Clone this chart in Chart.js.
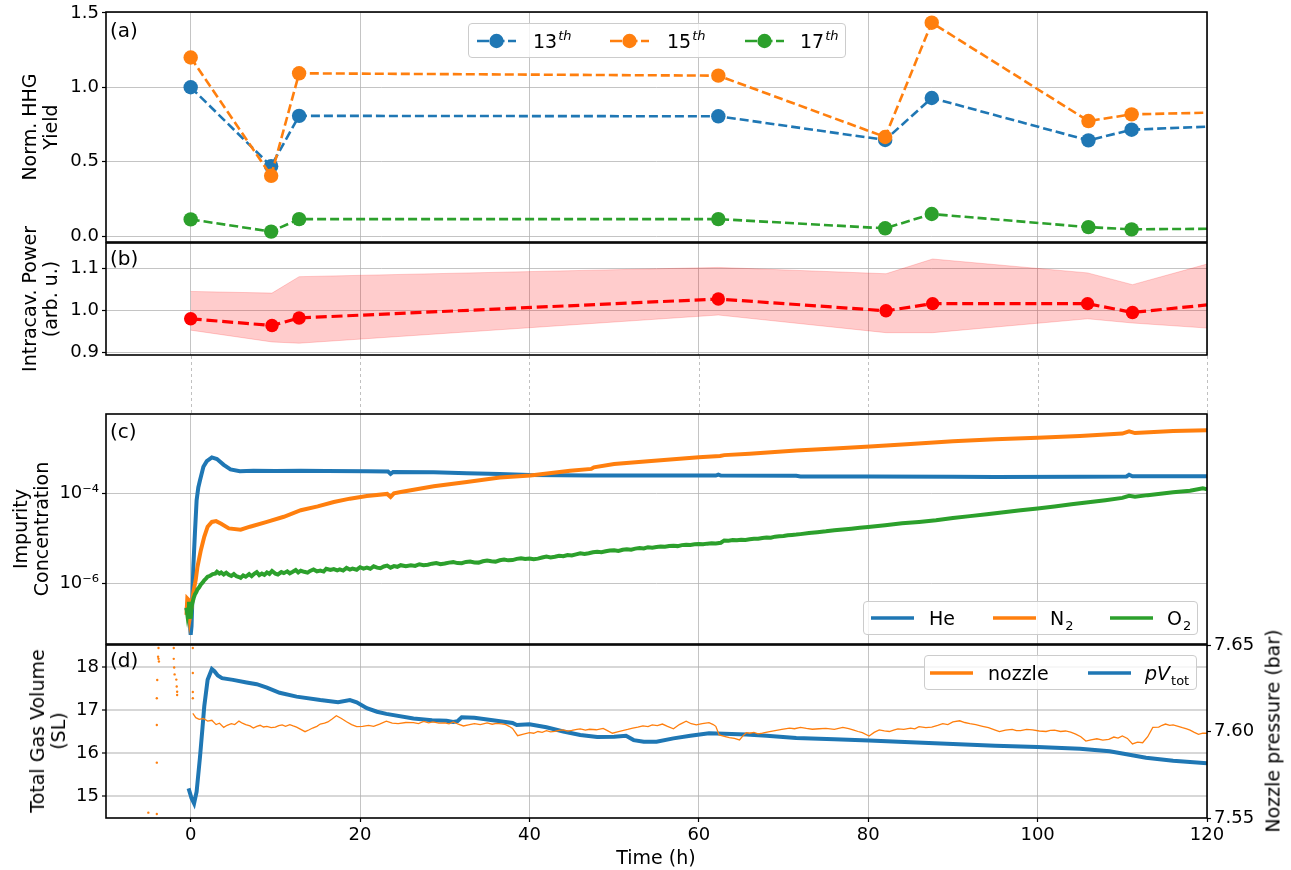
<!DOCTYPE html>
<html>
<head>
<meta charset="utf-8">
<title>HHG yield, intracavity power, impurities and gas volume over time</title>
<script src="https://cdn.jsdelivr.net/npm/chart.js@4.4.1/dist/chart.umd.min.js"></script>
<style>
  html, body { margin: 0; padding: 0; background: #ffffff; }
  #figure { position: relative; width: 1291px; height: 870px; overflow: hidden;
            font-family: "DejaVu Sans", sans-serif; color: #000; }
  #figure canvas { position: absolute; left: 0; top: 0; }
  .panel-tag { position: absolute; font-size: 20px; line-height: 1; transform: translateY(-50%); white-space: nowrap; }
  .ytitle { position: absolute; font-size: 19px; line-height: 21px; text-align: center;
            white-space: nowrap; transform: translate(-50%, -50%) rotate(-90deg); }
  .xtitle { position: absolute; font-size: 19px; white-space: nowrap; transform: translate(-50%, -50%); }
  .legend { position: absolute; box-sizing: border-box; border: 1px solid #cccccc; border-radius: 4px;
            background: rgba(255,255,255,0.8); font-size: 19px; }
  .legend .sample { position: absolute; top: 50%; transform: translateY(-50%); display: block; overflow: visible; }
  .legend .text { position: absolute; top: 50%; transform: translateY(-50%); white-space: nowrap; line-height: 1; }
  .legend .sup { font-size: 13px; font-style: italic; position: relative; top: -8px; margin-left: 1px; }
  .legend .sub { font-size: 13px; position: relative; top: 5px; margin-left: 1px; }
</style>
</head>
<body>
<div id="figure">
  <canvas id="panelA" width="1291" height="870"></canvas>
  <canvas id="panelB" width="1291" height="870"></canvas>
  <canvas id="panelC" width="1291" height="870"></canvas>
  <canvas id="panelD" width="1291" height="870"></canvas>
</div>
<script>
// ---------------- data ----------------
const TIME_TICKS = [0, 20, 40, 60, 80, 100, 120];

// (a) normalised HHG yield of the harmonic orders
const HHG_TIME = [0, 9.5, 12.8, 62.3, 82.0, 87.5, 106.0, 111.1, 120];
const HHG_13 = [1.000, 0.470, 0.808, 0.805, 0.646, 0.928, 0.643, 0.715, 0.735];
const HHG_15 = [1.200, 0.405, 1.094, 1.078, 0.666, 1.434, 0.773, 0.818, 0.829];
const HHG_17 = [0.112, 0.030, 0.114, 0.114, 0.052, 0.148, 0.060, 0.045, 0.049];
const HHG_TICKS = [0, 0.5, 1.0, 1.5];

// (b) intracavity power, mean and spread
const POWER_TIME  = [0, 9.6, 12.8, 62.3, 82.1, 87.6, 105.9, 111.2, 120];
const POWER_MEAN  = [0.980, 0.964, 0.982, 1.027, 0.999, 1.016, 1.016, 0.995, 1.013];
const POWER_UPPER = [1.045, 1.041, 1.080, 1.102, 1.087, 1.122, 1.089, 1.061, 1.110];
const POWER_LOWER = [0.953, 0.925, 0.922, 0.989, 0.947, 0.947, 0.980, 0.970, 0.958];
const POWER_TICKS = [0.9, 1.0, 1.1];

// (c) impurity concentrations [time (h), concentration]
const HE_CONC = [
  [-0.5, 2.5e-7], [-0.4, 3.2e-7], [-0.3, 2.9e-7], [-0.15, 1.6e-7], [0.0, 7.0e-8], [0.1, 1.1e-7],
  [0.2, 4.5e-7], [0.31, 2.3e-6], [0.5, 1.3e-5], [0.7, 7.0e-5], [0.9, 1.35e-4], [1.1, 1.95e-4],
  [1.5, 3.9e-4], [1.9, 5.2e-4], [2.5, 6.3e-4], [3.1, 5.8e-4], [3.9, 4.3e-4], [4.7, 3.4e-4],
  [5.8, 3.1e-4], [7.4, 3.2e-4], [10, 3.15e-4], [13, 3.2e-4], [16, 3.15e-4], [20.8, 3.1e-4],
  [23.3, 3.05e-4], [23.6, 2.7e-4], [23.9, 3.0e-4], [28.7, 2.95e-4], [32.6, 2.8e-4], [36.5, 2.7e-4],
  [40, 2.55e-4], [47, 2.5e-4], [55, 2.5e-4], [62.0, 2.48e-4], [62.3, 2.6e-4], [62.6, 2.48e-4],
  [71.5, 2.45e-4], [72, 2.38e-4], [80, 2.38e-4], [90, 2.33e-4], [95, 2.3e-4], [105, 2.35e-4],
  [110.5, 2.38e-4], [110.8, 2.6e-4], [111.2, 2.4e-4], [115, 2.4e-4], [120, 2.4e-4]
];
const N2_CONC = [
  [-0.5, 1.95e-7], [-0.4, 4.5e-7], [-0.25, 4.2e-7], [-0.1, 1.7e-7], [0.1, 2.9e-7], [0.3, 6.0e-7],
  [0.6, 1.2e-6], [0.8, 2.3e-6], [1.2, 5.4e-6], [1.6, 1.07e-5], [2.0, 1.8e-5], [2.5, 2.3e-5],
  [3.0, 2.4e-5], [3.6, 2.1e-5], [4.5, 1.65e-5], [5.9, 1.55e-5], [7.0, 1.8e-5], [9.0, 2.3e-5],
  [11, 3.0e-5], [13, 4.2e-5], [15, 5.1e-5], [16.9, 6.4e-5], [18.8, 7.6e-5], [20.8, 8.7e-5],
  [23.2, 9.7e-5], [23.6, 8.3e-5], [24.0, 1.0e-4], [24.8, 1.07e-4], [28.7, 1.44e-4], [32.6, 1.78e-4],
  [36.5, 2.24e-4], [40.1, 2.5e-4], [44.8, 3.2e-4], [47.3, 3.5e-4], [47.6, 3.8e-4], [50, 4.5e-4],
  [54, 5.2e-4], [60, 6.4e-4], [62.5, 6.8e-4], [63, 7.1e-4], [66, 7.6e-4], [71.5, 9.0e-4],
  [76, 1.0e-3], [80.2, 1.1e-3], [85, 1.26e-3], [90, 1.44e-3], [95, 1.6e-3], [100, 1.74e-3],
  [105, 1.9e-3], [110, 2.15e-3], [110.8, 2.4e-3], [111.5, 2.2e-3], [116, 2.45e-3], [120, 2.55e-3]
];
const O2_CONC = [
  [-0.5, 2.8e-7], [-0.4, 2.0e-7], [-0.3, 2.6e-7], [-0.2, 3.8e-7], [-0.1, 2.4e-7], [0.0, 1.6e-7],
  [0.1, 2.9e-7], [0.2, 3.6e-7], [0.35, 4.6e-7], [0.5, 5.6e-7], [0.65, 6.2e-7], [0.8, 7.2e-7],
  [1.0, 8.0e-7], [1.2, 9.3e-7], [1.4, 1.02e-6], [1.6, 1.15e-6], [1.8, 1.25e-6], [2.0, 1.38e-6],
  [2.3, 1.45e-6], [2.6, 1.58e-6], [2.9, 1.62e-6], [3.1, 1.78e-6], [3.4, 1.62e-6], [3.6, 1.72e-6],
  [3.9, 1.55e-6], [4.2, 1.7e-6], [4.5, 1.52e-6], [4.8, 1.44e-6], [5.1, 1.58e-6], [5.4, 1.42e-6],
  [5.7, 1.36e-6], [5.9, 1.30e-6], [6.2, 1.48e-6], [6.5, 1.38e-6], [6.9, 1.58e-6], [7.2, 1.42e-6],
  [7.5, 1.6e-6], [7.8, 1.74e-6], [8.1, 1.5e-6], [8.4, 1.62e-6], [8.7, 1.52e-6], [9.0, 1.72e-6],
  [9.3, 1.6e-6], [9.6, 1.85e-6], [10.0, 1.62e-6], [10.3, 1.55e-6], [10.7, 1.75e-6], [11.0, 1.66e-6],
  [11.4, 1.82e-6], [11.7, 1.64e-6], [12.0, 1.76e-6], [12.4, 1.95e-6], [12.7, 1.72e-6], [13.0, 1.88e-6],
  [13.4, 1.78e-6], [13.8, 1.70e-6], [14.1, 1.86e-6], [14.5, 2.0e-6], [14.9, 1.82e-6], [15.3, 1.9e-6],
  [15.7, 1.8e-6], [16.0, 2.08e-6], [16.5, 1.95e-6], [16.9, 2.05e-6], [17.3, 1.92e-6], [17.6, 2.02e-6],
  [18.0, 1.9e-6], [18.4, 2.18e-6], [18.8, 2.0e-6], [19.1, 2.1e-6], [19.6, 1.98e-6], [20.0, 2.25e-6],
  [20.4, 2.1e-6], [20.8, 2.2e-6], [21.2, 2.08e-6], [21.6, 2.36e-6], [22.0, 2.2e-6], [22.4, 2.14e-6],
  [22.8, 2.34e-6], [23.2, 2.45e-6], [23.6, 2.2e-6], [24.0, 2.38e-6], [24.4, 2.3e-6], [24.8, 2.5e-6],
  [25.4, 2.38e-6], [26.0, 2.48e-6], [26.5, 2.4e-6], [27.0, 2.62e-6], [27.5, 2.5e-6], [28.0, 2.56e-6],
  [28.5, 2.7e-6], [29.0, 2.78e-6], [29.5, 2.62e-6], [30.0, 2.72e-6], [30.5, 2.85e-6], [31.0, 2.92e-6],
  [31.5, 2.78e-6], [32.0, 2.76e-6], [32.5, 2.95e-6], [33.0, 3.02e-6], [33.5, 2.88e-6], [34.0, 2.85e-6],
  [34.5, 3.05e-6], [35.0, 3.18e-6], [35.5, 3.05e-6], [36.0, 3.0e-6], [36.5, 3.22e-6], [37.0, 3.35e-6],
  [37.5, 3.2e-6], [38.0, 3.25e-6], [38.5, 3.45e-6], [39.0, 3.58e-6], [39.5, 3.42e-6], [40.0, 3.52e-6],
  [40.5, 3.38e-6], [41, 3.5e-6], [41.5, 3.7e-6], [42, 3.9e-6], [42.5, 3.72e-6], [43, 3.85e-6],
  [43.5, 4.05e-6], [44, 3.95e-6], [44.5, 4.2e-6], [45, 4.1e-6], [45.5, 4.35e-6], [46, 4.6e-6],
  [46.5, 4.45e-6], [47, 4.6e-6], [47.5, 4.85e-6], [48, 5.0e-6], [48.5, 4.85e-6], [49, 5.1e-6],
  [49.5, 5.3e-6], [50, 5.35e-6], [50.5, 5.2e-6], [51, 5.5e-6], [51.5, 5.65e-6], [52, 5.55e-6],
  [52.5, 5.85e-6], [53, 6.0e-6], [53.5, 5.9e-6], [54, 6.3e-6], [54.5, 6.15e-6], [55, 6.35e-6],
  [55.5, 6.55e-6], [56, 6.45e-6], [56.5, 6.7e-6], [57, 6.8e-6], [57.5, 6.65e-6], [58, 7.0e-6],
  [58.5, 7.15e-6], [59, 7.05e-6], [59.5, 7.3e-6], [60, 7.4e-6], [60.5, 7.3e-6], [61, 7.55e-6],
  [61.5, 7.7e-6], [62, 7.6e-6], [62.6, 7.9e-6], [63, 8.9e-6], [63.5, 8.8e-6], [64, 9.05e-6],
  [64.5, 8.95e-6], [65, 9.25e-6], [65.5, 9.15e-6], [66, 9.5e-6], [66.5, 9.75e-6], [67, 9.7e-6],
  [67.5, 10.1e-6], [68, 1.03e-5], [68.5, 1.02e-5], [69, 1.08e-5], [69.5, 1.1e-5], [70, 1.12e-5],
  [70.5, 1.16e-5], [71, 1.18e-5], [71.5, 1.2e-5], [72, 1.23e-5], [73, 1.3e-5], [74, 1.36e-5],
  [75, 1.42e-5], [76, 1.5e-5], [77, 1.56e-5], [78, 1.63e-5], [79, 1.7e-5], [80, 1.78e-5],
  [82, 1.95e-5], [84, 2.15e-5], [86, 2.3e-5], [88, 2.5e-5], [90, 2.8e-5], [92, 3.1e-5],
  [94, 3.4e-5], [96, 3.8e-5], [98, 4.2e-5], [100, 4.6e-5], [102, 5.1e-5], [104, 5.7e-5],
  [106, 6.3e-5], [108, 7.0e-5], [110, 7.9e-5], [110.8, 8.8e-5], [111.5, 8.4e-5], [113, 9.1e-5],
  [114, 9.5e-5], [116, 1.05e-4], [118, 1.14e-4], [119.5, 1.3e-4], [120, 1.22e-4]
];
const IMPURITY_TICKS = [1e-6, 1e-4];

// (d) total gas volume pV_tot (SL) and nozzle pressure (bar)
const GAS_VOLUME = [
  [-0.25, 15.18], [0.1, 14.95], [0.4, 14.83], [0.7, 15.10], [1.1, 15.91], [1.4, 16.60],
  [1.6, 17.08], [2.0, 17.70], [2.5, 17.95], [2.8, 17.90], [3.2, 17.80], [3.7, 17.74],
  [5.0, 17.70], [6.6, 17.64], [7.8, 17.60], [9.0, 17.52], [10.5, 17.40], [12.5, 17.31],
  [15.3, 17.23], [17.4, 17.18], [18.8, 17.23], [19.6, 17.18], [20.8, 17.04], [22.0, 16.96],
  [23.1, 16.91], [26.3, 16.80], [28.5, 16.76], [30.2, 16.75], [31.0, 16.72], [31.5, 16.74],
  [32.0, 16.83], [33.5, 16.82], [36.1, 16.75], [38.0, 16.70], [38.5, 16.65], [40.0, 16.67],
  [42.0, 16.60], [44.0, 16.50], [46.0, 16.42], [48.0, 16.37], [50.0, 16.38], [51.4, 16.40],
  [52.3, 16.30], [53.5, 16.26], [55.0, 16.26], [57.0, 16.34], [59.0, 16.40], [61.2, 16.46],
  [63.0, 16.45], [65.6, 16.43], [68.0, 16.40], [71.5, 16.35], [76.0, 16.32], [80.1, 16.29],
  [85.0, 16.25], [90.0, 16.21], [95.0, 16.17], [100.0, 16.14], [105.0, 16.10], [108.5, 16.04],
  [110.5, 15.97], [112.8, 15.89], [116.0, 15.82], [120.0, 15.76]
];
const NOZZLE_PRESSURE = [
  [0.25, 7.6105], [0.6, 7.6080], [1.0, 7.6070], [1.5, 7.6075], [2.0, 7.6060], [2.5, 7.6065],
  [3.0, 7.6040], [3.4, 7.6048], [3.9, 7.6024], [4.3, 7.6036], [4.8, 7.6045], [5.2, 7.6040],
  [5.7, 7.6060], [6.1, 7.6048], [6.5, 7.6040], [7.0, 7.6032], [7.4, 7.6020], [7.8, 7.6030],
  [8.2, 7.6036], [8.6, 7.6026], [9.0, 7.6030], [9.5, 7.6022], [10.0, 7.6025], [10.4, 7.6034],
  [10.8, 7.6038], [11.2, 7.6030], [11.7, 7.6040], [12.1, 7.6032], [12.5, 7.6025], [13.0, 7.6012],
  [13.5, 7.5999], [14.0, 7.6010], [14.4, 7.6020], [14.9, 7.6030], [15.3, 7.6043], [15.8, 7.6048],
  [16.2, 7.6055], [16.7, 7.6072], [17.2, 7.6091], [17.8, 7.6075], [18.4, 7.6056], [19.0, 7.6040],
  [19.6, 7.6028], [20.3, 7.6030], [21.0, 7.6035], [21.6, 7.6030], [22.3, 7.6043], [23.1, 7.6060],
  [23.8, 7.6048], [24.5, 7.6045], [25.4, 7.6052], [26.3, 7.6051], [26.9, 7.6046], [27.5, 7.6058],
  [28.1, 7.6050], [28.6, 7.6056], [29.3, 7.6048], [30.0, 7.6050], [30.5, 7.6044], [31.0, 7.6055],
  [31.6, 7.6042], [32.2, 7.6032], [32.8, 7.6038], [33.5, 7.6045], [34.2, 7.6040], [35.0, 7.6050],
  [35.6, 7.6042], [36.1, 7.6047], [36.7, 7.6044], [37.2, 7.6040], [37.6, 7.6030], [38.0, 7.6018],
  [38.6, 7.5976], [39.3, 7.5985], [40.0, 7.5993], [40.5, 7.5990], [41.0, 7.6000], [41.5, 7.5995],
  [42.0, 7.6005], [42.5, 7.5998], [43.0, 7.6001], [43.5, 7.6006], [44.0, 7.6009], [44.5, 7.6002],
  [45.0, 7.6006], [45.6, 7.6012], [46.0, 7.6015], [46.6, 7.6008], [47.1, 7.6013], [47.9, 7.6010],
  [48.7, 7.6018], [49.2, 7.6005], [49.8, 7.5990], [50.4, 7.5998], [51.0, 7.6005], [51.6, 7.6012],
  [52.2, 7.6020], [52.8, 7.6025], [53.4, 7.6032], [54.0, 7.6028], [54.5, 7.6038], [55.1, 7.6034],
  [55.7, 7.6043], [56.3, 7.6030], [57.0, 7.6016], [57.7, 7.6040], [58.5, 7.6060], [59.1, 7.6045],
  [59.7, 7.6038], [60.4, 7.6046], [61.2, 7.6051], [61.7, 7.6040], [62.0, 7.6030], [62.4, 7.5980],
  [63.0, 7.5972], [63.6, 7.5964], [64.2, 7.5960], [64.8, 7.5951], [65.2, 7.5975], [65.6, 7.5993],
  [66.0, 7.5990], [66.5, 7.5995], [67.0, 7.5986], [67.5, 7.5990], [68.2, 7.5998], [69.0, 7.6005],
  [69.8, 7.6012], [70.7, 7.6020], [71.3, 7.6016], [72.0, 7.6024], [72.7, 7.6018], [73.4, 7.6013],
  [74.2, 7.6016], [75.0, 7.6018], [76.0, 7.6012], [77.0, 7.6024], [77.7, 7.6016], [78.3, 7.6008],
  [78.8, 7.6000], [79.3, 7.5993], [80.1, 7.5974], [80.7, 7.5995], [81.3, 7.6009], [81.9, 7.6003],
  [82.5, 7.6000], [83.0, 7.6008], [83.5, 7.6015], [84.2, 7.6012], [85.0, 7.6020], [85.5, 7.6015],
  [86.0, 7.6028], [86.8, 7.6022], [87.5, 7.6025], [88.2, 7.6035], [88.8, 7.6045], [89.4, 7.6040],
  [90.0, 7.6055], [90.8, 7.6062], [91.4, 7.6052], [92.0, 7.6045], [92.7, 7.6040], [93.5, 7.6030],
  [94.2, 7.6022], [95.0, 7.6008], [95.5, 7.5999], [96.2, 7.6008], [97.0, 7.6012], [97.5, 7.6005],
  [98.0, 7.6005], [98.7, 7.6012], [99.4, 7.6009], [100.2, 7.6003], [101.0, 7.6000], [101.5, 7.6006],
  [102.0, 7.6008], [102.7, 7.6000], [103.3, 7.6003], [103.9, 7.5996], [104.5, 7.5985], [105.1, 7.5970],
  [105.7, 7.5945], [106.3, 7.5952], [107.0, 7.5958], [107.7, 7.5950], [108.4, 7.5955], [109.0, 7.5968],
  [109.5, 7.5962], [110.0, 7.5974], [110.6, 7.5960], [111.2, 7.5928], [111.8, 7.5938], [112.4, 7.5935],
  [113.0, 7.5970], [113.6, 7.6024], [114.3, 7.6025], [114.7, 7.6036], [115.1, 7.6043], [115.6, 7.6035],
  [116.0, 7.6038], [116.6, 7.6030], [117.1, 7.6022], [117.6, 7.6015], [118.0, 7.6008], [118.5, 7.5995],
  [119.0, 7.5984], [119.5, 7.5990], [120.0, 7.5990]
];
// isolated pressure readings logged before the run started
const NOZZLE_EARLY = [
  [-5.0, 7.5531], [-4.0, 7.5523], [-4.0, 7.5820], [-4.0, 7.6038], [-4.0, 7.6192], [-3.95, 7.6298],
  [-3.85, 7.6432], [-3.8, 7.6420], [-3.75, 7.6405], [-3.8, 7.6483],
  [-2.0, 7.6483], [-2.0, 7.6420], [-1.95, 7.6370], [-1.9, 7.6330], [-1.7, 7.6300], [-1.65, 7.6260],
  [-1.6, 7.6230], [-1.6, 7.6211],
  [0.25, 7.6483], [0.25, 7.6338], [0.25, 7.6228], [0.25, 7.6192]
];
const VOLUME_TICKS = [15, 16, 17, 18];
const NOZZLE_TICKS = [7.55, 7.60, 7.65];

// ---------------- layout & style ----------------
const W = 1291, H = 870;
const PLOT_LEFT = 106, PLOT_RIGHT = 1207;
const X_AXIS_H = 30;
const TIME_MIN = -10, TIME_MAX = 120;
const GRID = 'rgba(176,176,176,0.75)';
const TICK_FONT = { family: 'DejaVu Sans', size: 18 };
const C_BLUE = '#1f77b4', C_ORANGE = '#ff7f0e', C_GREEN = '#2ca02c', C_RED = '#ff0000';

const pts = (xs, ys) => xs.map((x, i) => ({ x: x, y: ys[i] }));
const pairs = arr => arr.map(p => ({ x: p[0], y: p[1] }));
const fixedTicks = list => scale => { scale.ticks = list.map(v => ({ value: v })); };
const SUP = { '-': '\u207B', '0': '\u2070', '1': '\u00B9', '2': '\u00B2', '3': '\u00B3', '4': '\u2074',
              '5': '\u2075', '6': '\u2076', '7': '\u2077', '8': '\u2078', '9': '\u2079' };
const powLabel = v => '10' + String(Math.round(Math.log10(v))).split('').map(c => SUP[c]).join('');

// black frame round each panel
const frame = {
  id: 'frame',
  afterDatasetsDraw(chart) {
    const { ctx, chartArea: a } = chart;
    ctx.save();
    ctx.strokeStyle = '#000';
    ctx.lineWidth = 1.6;
    ctx.strokeRect(a.left, a.top, a.right - a.left, a.bottom - a.top);
    ctx.restore();
  }
};
// dashed continuation of the time grid below a panel
const gapGrid = {
  id: 'gapGrid',
  afterDraw(chart, args, opts) {
    const { ctx, chartArea: a, scales } = chart;
    const x = scales.x;
    ctx.save();
    ctx.strokeStyle = 'rgba(176,176,176,0.8)';
    ctx.lineWidth = 1;
    ctx.setLineDash([3, 3]);
    x.ticks.forEach(t => {
      const px = Math.round(x.getPixelForValue(t.value)) + 0.5;
      ctx.beginPath();
      ctx.moveTo(px, a.bottom + 1);
      ctx.lineTo(px, a.bottom + opts.depth);
      ctx.stroke();
    });
    ctx.restore();
  }
};

function timeAxis(showLabels) {
  return {
    type: 'linear', min: TIME_MIN, max: TIME_MAX,
    afterBuildTicks: fixedTicks(TIME_TICKS),
    afterFit: s => { s.height = showLabels ? X_AXIS_H : 0; s.paddingLeft = 0; s.paddingRight = 0; },
    grid: { color: GRID, lineWidth: 1, drawTicks: showLabels, tickLength: 4, tickColor: '#000', tickWidth: 1.2 },
    border: { display: false },
    ticks: { display: showLabels, color: '#000', font: TICK_FONT, padding: 3, maxRotation: 0,
             autoSkip: false, callback: v => String(v) }
  };
}
function valueAxis(opts) {
  const right = opts.position === 'right';
  return Object.assign({
    position: 'left',
    afterBuildTicks: fixedTicks(opts.tickList),
    afterFit: s => { s.width = right ? (W - PLOT_RIGHT) : PLOT_LEFT; s.paddingTop = 0; s.paddingBottom = 0; },
    grid: { color: opts.gridColor || GRID, lineWidth: opts.gridWidth || 1, drawOnChartArea: !right,
            drawTicks: true, tickLength: 4, tickColor: '#000', tickWidth: 1.2 },
    border: { display: false },
    ticks: { color: '#000', font: TICK_FONT, padding: 3, autoSkip: false, callback: opts.fmt }
  }, opts.scale);
}
function makeChart(id, top, bottom, xLabels, hasRight, datasets, scales, extra) {
  const xh = xLabels ? X_AXIS_H : 0;
  return new Chart(document.getElementById(id), {
    type: 'line',
    data: { datasets: datasets },
    options: {
      responsive: false, animation: false, devicePixelRatio: 1, events: [],
      layout: { padding: { top: top, bottom: H - bottom - xh, left: 0, right: hasRight ? 0 : W - PLOT_RIGHT } },
      elements: { line: { tension: 0 }, point: { radius: 0 } },
      scales: Object.assign({ x: timeAxis(xLabels) }, scales),
      plugins: Object.assign({ legend: { display: false }, tooltip: { enabled: false } }, extra || {})
    },
    plugins: [frame].concat(extra && extra.gapGrid ? [gapGrid] : [])
  });
}

// ---------------- (a) HHG yield ----------------
const lastHidden = (n, r) => ctx => (ctx.dataIndex < n - 1 ? r : 0);
function hhgSet(label, ys, color, order) {
  return {
    label: label, data: pts(HHG_TIME, ys), borderColor: color, backgroundColor: color,
    borderWidth: 2.6, borderDash: [9, 4], pointRadius: lastHidden(HHG_TIME.length, 7.2),
    pointBorderWidth: 0, pointBackgroundColor: color, order: order
  };
}
makeChart('panelA', 12, 242, false, false, [
  hhgSet('13th', HHG_13, C_BLUE, 3),
  hhgSet('15th', HHG_15, C_ORANGE, 2),
  hhgSet('17th', HHG_17, C_GREEN, 1)
], {
  y: valueAxis({ tickList: HHG_TICKS, fmt: v => v.toFixed(1), scale: { type: 'linear', min: -0.04, max: 1.506 } })
});

// ---------------- (b) intracavity power ----------------
makeChart('panelB', 243, 355, false, false, [
  { label: 'mean', data: pts(POWER_TIME, POWER_MEAN), borderColor: C_RED, backgroundColor: C_RED,
    borderWidth: 3.2, borderDash: [11, 4.8], pointRadius: lastHidden(POWER_TIME.length, 6.7),
    pointBorderWidth: 0, pointBackgroundColor: C_RED, order: 0 },
  { label: 'upper', data: pts(POWER_TIME, POWER_UPPER), borderColor: 'rgba(255,0,0,0.18)',
    borderWidth: 1, backgroundColor: 'rgba(255,0,0,0.2)', fill: '+1', order: 1 },
  { label: 'lower', data: pts(POWER_TIME, POWER_LOWER), borderColor: 'rgba(255,0,0,0.18)',
    borderWidth: 1, fill: false, order: 2 }
], {
  y: valueAxis({ tickList: POWER_TICKS, fmt: v => v.toFixed(1), scale: { type: 'linear', min: 0.894, max: 1.160 } })
}, { gapGrid: { depth: 414 - 355 }, filler: { propagate: false } });

// ---------------- (c) impurity concentration ----------------
makeChart('panelC', 414, 644, false, false, [
  { label: 'He', data: pairs(HE_CONC), borderColor: C_BLUE, borderWidth: 4, order: 3 },
  { label: 'N2', data: pairs(N2_CONC), borderColor: C_ORANGE, borderWidth: 4, order: 2 },
  { label: 'O2', data: pairs(O2_CONC), borderColor: C_GREEN, borderWidth: 4, order: 1 }
], {
  y: valueAxis({ tickList: IMPURITY_TICKS, fmt: v => powLabel(v),
                 scale: { type: 'logarithmic', min: 4.37e-8, max: 5.86e-3 } })
});

// ---------------- (d) gas volume & nozzle pressure ----------------
makeChart('panelD', 645, 818, true, true, [
  { label: 'pV_tot', data: pairs(GAS_VOLUME), yAxisID: 'y', borderColor: C_BLUE, borderWidth: 4, order: 3 },
  { label: 'nozzle', data: pairs(NOZZLE_PRESSURE), yAxisID: 'y2', borderColor: C_ORANGE, borderWidth: 1.3, order: 1 },
  { label: 'nozzle (early)', data: pairs(NOZZLE_EARLY), yAxisID: 'y2', showLine: false, pointRadius: 1.2,
    pointBorderWidth: 0, pointBackgroundColor: C_ORANGE, order: 2 }
], {
  y: valueAxis({ tickList: VOLUME_TICKS, fmt: v => String(v), gridColor: 'rgba(176,176,176,0.5)', gridWidth: 2,
                 scale: { type: 'linear', min: 14.49, max: 18.51 } }),
  y2: valueAxis({ position: 'right', tickList: NOZZLE_TICKS, fmt: v => v.toFixed(2),
                  scale: { type: 'linear', position: 'right', min: 7.55, max: 7.65 } })
});

// ---------------- text: titles, panel tags, legends ----------------
const fig = document.getElementById('figure');
function addText(cls, html, left, top) {
  const el = document.createElement('div');
  el.className = cls;
  el.innerHTML = html;
  el.style.left = left + 'px';
  el.style.top = top + 'px';
  fig.appendChild(el);
}
addText('ytitle', 'Norm. HHG<br>Yield', 40, 127);
addText('ytitle', 'Intracav. Power<br>(arb. u.)', 40, 299);
addText('ytitle', 'Impurity<br>Concentration', 31, 529);
addText('ytitle', 'Total Gas Volume<br>(SL)', 48, 731);
addText('ytitle', 'Nozzle pressure (bar)', 1273, 731);
addText('xtitle', 'Time (h)', 656, 857);
addText('panel-tag', '(a)', 110, 30);
addText('panel-tag', '(b)', 110, 258);
addText('panel-tag', '(c)', 110, 431);
addText('panel-tag', '(d)', 110, 660);

const SVG_NS = 'http://www.w3.org/2000/svg';
function addLegend(box, entries) {
  const div = document.createElement('div');
  div.className = 'legend';
  div.style.left = box.left + 'px';
  div.style.top = box.top + 'px';
  div.style.width = box.width + 'px';
  div.style.height = box.height + 'px';
  entries.forEach(e => {
    const svg = document.createElementNS(SVG_NS, 'svg');
    svg.setAttribute('class', 'sample');
    svg.setAttribute('width', e.len);
    svg.setAttribute('height', 16);
    svg.style.left = e.at + 'px';
    const line = document.createElementNS(SVG_NS, 'line');
    line.setAttribute('x1', 0); line.setAttribute('y1', 8);
    line.setAttribute('x2', e.len); line.setAttribute('y2', 8);
    line.setAttribute('stroke', e.color);
    line.setAttribute('stroke-width', e.width);
    if (e.dash) line.setAttribute('stroke-dasharray', e.dash.join(' '));
    svg.appendChild(line);
    if (e.dot) {
      const c = document.createElementNS(SVG_NS, 'circle');
      c.setAttribute('cx', e.len / 2); c.setAttribute('cy', 8); c.setAttribute('r', e.dot);
      c.setAttribute('fill', e.color);
      svg.appendChild(c);
    }
    div.appendChild(svg);
    const t = document.createElement('span');
    t.className = 'text';
    t.style.left = e.textAt + 'px';
    t.innerHTML = e.label;
    div.appendChild(t);
  });
  fig.appendChild(div);
}
addLegend({ left: 468, top: 23, width: 378, height: 35 }, [
  { at: 8, len: 39, textAt: 64, color: C_BLUE, width: 2.6, dash: [12, 3.5], dot: 7.2, label: '13<span class="sup">th</span>' },
  { at: 141, len: 39, textAt: 198, color: C_ORANGE, width: 2.6, dash: [12, 3.5], dot: 7.2, label: '15<span class="sup">th</span>' },
  { at: 276, len: 39, textAt: 331, color: C_GREEN, width: 2.6, dash: [12, 3.5], dot: 7.2, label: '17<span class="sup">th</span>' }
]);
addLegend({ left: 863, top: 601, width: 335, height: 34 }, [
  { at: 7, len: 43, textAt: 65, color: C_BLUE, width: 3.3, label: 'He' },
  { at: 129, len: 43, textAt: 186, color: C_ORANGE, width: 3.3, label: 'N<span class="sub">2</span>' },
  { at: 246, len: 43, textAt: 303, color: C_GREEN, width: 3.3, label: 'O<span class="sub">2</span>' }
]);
addLegend({ left: 924, top: 655, width: 273, height: 35 }, [
  { at: 5, len: 43, textAt: 63, color: C_ORANGE, width: 3.5, label: 'nozzle' },
  { at: 163, len: 43, textAt: 220, color: C_BLUE, width: 3.5, label: '<i>pV</i><span class="sub">tot</span>' }
]);
</script>
</body>
</html>
